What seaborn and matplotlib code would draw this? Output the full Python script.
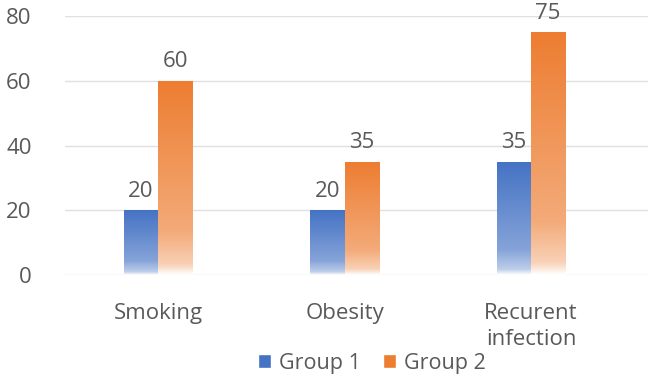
import numpy as np
import pandas as pd
import matplotlib
matplotlib.use("Agg")
import matplotlib.pyplot as plt
import seaborn as sns
from matplotlib.colors import to_rgb
from matplotlib.patches import Patch

categories = ["Smoking", "Obesity", "Recurent\ninfection"]
group1 = [20, 20, 35]
group2 = [60, 35, 75]
series = ["Group 1", "Group 2"]
colors = {"Group 1": "#4472C4", "Group 2": "#ED7D31"}
yticks = [0, 20, 40, 60, 80]

df = pd.DataFrame({
    "category": categories * 2,
    "value": group1 + group2,
    "series": ["Group 1"] * 3 + ["Group 2"] * 3,
})

sns.set_style("white")
plt.rcParams["font.family"] = ["Open Sans", "DejaVu Sans"]
gray = "#595959"

fig = plt.figure(figsize=(6.48, 3.76), dpi=100)
ax = fig.add_axes([65 / 648, 101 / 376, 1 - 65 / 648, (275 - 16) / 376])

sns.barplot(data=df, x="category", y="value", hue="series", palette=colors,
            width=0.365, gap=0, ax=ax, legend=False, errorbar=None,
            saturation=1)

ax.set_ylim(0, 80)
ax.set_xlim(-0.4987, 2.627)
ax.set_yticks(yticks)
ax.yaxis.grid(True, color="#e0e0e0", linewidth=1)
ax.set_axisbelow(True)
for s in ax.spines.values():
    s.set_visible(False)
ax.set_xlabel("")
ax.set_ylabel("")
ax.tick_params(axis="y", length=0, pad=24, labelsize=16, labelcolor=gray)
ax.tick_params(axis="x", length=0, pad=20, labelsize=16, labelcolor=gray)
for lab in ax.get_xticklabels():
    lab.set_verticalalignment("top")
    lab.set_linespacing(1.3)

# gradient fill
def gradient_img(color):
    c = np.array(to_rgb(color))
    n = 256
    t = np.linspace(0, 1, n)  # 0 bottom, 1 top
    amt = np.interp(t, [0, 0.05, 0.22, 1.0], [0.0, 0.35, 0.65, 1.0])
    img = 1 - amt[:, None] * (1 - c[None, :])
    return img[::-1][:, None, :]

bars = [p for p in ax.patches if p.get_height() > 0]
for p in bars:
    fc = p.get_facecolor()
    x0, y0 = p.get_x(), p.get_y()
    w, h = p.get_width(), p.get_height()
    im = ax.imshow(gradient_img(fc[:3]), extent=[x0, x0 + w, y0, y0 + h],
                   aspect="auto", zorder=2, interpolation="bilinear")
    im.set_clip_path(p)
    p.set_facecolor("none")
    p.set_edgecolor("none")
    ax.annotate(f"{int(round(h))}", (x0 + w / 2, y0 + h), xytext=(0, 6),
                textcoords="offset points", ha="center", va="bottom",
                fontsize=16, color=gray, annotation_clip=False)

ax.set_xlim(-0.4987, 2.627)
ax.set_ylim(0, 80)

handles = [Patch(facecolor=colors[s], label=s) for s in series]
fig.legend(handles=handles, loc="lower center", bbox_to_anchor=(372 / 648, -0.045),
           ncol=2, frameon=False, fontsize=15.5, labelcolor=gray,
           handlelength=0.6, handleheight=0.6, handletextpad=0.4, columnspacing=1.0)

fig.savefig("out.png", dpi=100)
